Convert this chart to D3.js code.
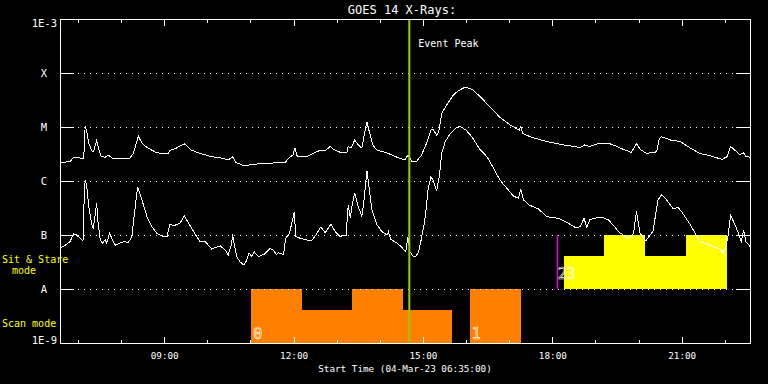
<!DOCTYPE html>
<html lang="en">
<head>
<meta charset="utf-8">
<title>GOES 14 X-Rays</title>
<script src="https://d3js.org/d3.v7.min.js"></script>
<style>
    body {
        margin: 0;
        padding: 0;
        background: #000;
        overflow: hidden;
    }
    text {
        font-family: "DejaVu Sans Mono", monospace;
        fill: #fff;
    }
</style>
</head>
<body>
<svg id="goes"></svg>
<script>
const day = "2023-03-04";
const startTime = "06:35";
const endTime = "22:35";
const eventPeak = "14:41";

const levelValues = [1e-9, 1e-8, 1e-7, 1e-6, 1e-5, 1e-4, 1e-3];
const levelLabels = ["1E-9", "A", "B", "C", "M", "X", "1E-3"];

// [time, log10 flux W/m^2]
const longChannel = [
    ["06:35", -5.66], ["06:49", -5.64], ["06:54", -5.56], ["07:06", -5.58], ["07:08", -5.58],
    ["07:10", -4.99], ["07:12", -5.07], ["07:15", -5.30], ["07:20", -5.46], ["07:22", -5.44],
    ["07:26", -5.25], ["07:28", -5.36], ["07:32", -5.54], ["07:38", -5.56], ["07:42", -5.52],
    ["07:49", -5.59], ["07:58", -5.59], ["08:12", -5.58], ["08:17", -5.49], ["08:24", -5.17],
    ["08:29", -5.30], ["08:36", -5.38], ["08:50", -5.48], ["09:06", -5.49], ["09:08", -5.43],
    ["09:17", -5.39], ["09:28", -5.31], ["09:38", -5.43], ["09:50", -5.49], ["10:06", -5.55],
    ["10:18", -5.57], ["10:29", -5.61], ["10:35", -5.55], ["10:40", -5.66], ["10:52", -5.72],
    ["11:04", -5.69], ["11:23", -5.67], ["11:48", -5.66], ["11:53", -5.58], ["11:59", -5.52],
    ["12:02", -5.39], ["12:05", -5.54], ["12:18", -5.55], ["12:27", -5.49], ["12:37", -5.43],
    ["12:44", -5.44], ["12:51", -5.36], ["12:55", -5.41], ["13:05", -5.47], ["13:14", -5.48],
    ["13:16", -5.36], ["13:20", -5.39], ["13:25", -5.24], ["13:30", -5.33], ["13:35", -5.39],
    ["13:39", -5.09], ["13:42", -4.91], ["13:46", -5.12], ["13:50", -5.33], ["13:56", -5.43],
    ["14:10", -5.48], ["14:24", -5.56], ["14:35", -5.61], ["14:39", -5.52], ["14:44", -5.63],
    ["14:51", -5.64], ["14:58", -5.52], ["15:06", -5.27], ["15:11", -5.06], ["15:14", -5.04],
    ["15:19", -5.15], ["15:22", -5.09], ["15:26", -4.75], ["15:33", -4.59], ["15:42", -4.41],
    ["15:49", -4.33], ["15:59", -4.26], ["16:08", -4.30], ["16:19", -4.43], ["16:24", -4.50],
    ["16:47", -4.82], ["17:01", -4.96], ["17:14", -5.06], ["17:16", -4.99], ["17:19", -5.12],
    ["17:29", -5.18], ["17:52", -5.27], ["18:15", -5.33], ["18:39", -5.38], ["18:45", -5.33],
    ["18:52", -5.36], ["19:06", -5.30], ["19:18", -5.30], ["19:30", -5.36], ["19:34", -5.39],
    ["19:50", -5.47], ["19:57", -5.31], ["20:02", -5.41], ["20:11", -5.49], ["20:25", -5.46],
    ["20:29", -5.21], ["20:32", -5.18], ["20:44", -5.24], ["20:58", -5.27], ["21:12", -5.39],
    ["21:25", -5.49], ["21:39", -5.53], ["21:56", -5.60], ["22:03", -5.55], ["22:08", -5.36],
    ["22:14", -5.43], ["22:21", -5.51], ["22:26", -5.48], ["22:29", -5.54], ["22:35", -5.56]
];

const shortChannel = [
    ["06:35", -7.25], ["06:42", -7.19], ["06:49", -7.12], ["06:54", -6.98], ["06:57", -6.99],
    ["07:03", -7.06], ["07:07", -7.11], ["07:08", -6.54], ["07:10", -5.98], ["07:12", -6.07],
    ["07:15", -6.48], ["07:19", -6.78], ["07:21", -6.88], ["07:23", -6.72], ["07:26", -6.41],
    ["07:28", -6.78], ["07:31", -7.09], ["07:34", -7.15], ["07:38", -7.09], ["07:40", -7.15],
    ["07:44", -6.97], ["07:47", -7.06], ["07:52", -7.19], ["07:58", -7.15], ["08:05", -7.12],
    ["08:10", -7.14], ["08:15", -7.03], ["08:18", -6.66], ["08:23", -6.11], ["08:29", -6.35],
    ["08:36", -6.66], ["08:43", -6.85], ["08:50", -6.97], ["08:59", -7.03], ["09:04", -7.02],
    ["09:08", -6.80], ["09:13", -6.83], ["09:22", -6.78], ["09:28", -6.65], ["09:34", -6.78],
    ["09:41", -6.94], ["09:50", -7.13], ["09:57", -7.12], ["10:06", -7.26], ["10:18", -7.20],
    ["10:25", -7.28], ["10:29", -7.37], ["10:34", -7.15], ["10:35", -6.98], ["10:37", -7.15],
    ["10:41", -7.40], ["10:45", -7.49], ["10:51", -7.56], ["10:55", -7.46], ["10:58", -7.33],
    ["11:02", -7.40], ["11:05", -7.31], ["11:11", -7.40], ["11:20", -7.35], ["11:27", -7.25],
    ["11:32", -7.28], ["11:36", -7.36], ["11:39", -7.33], ["11:46", -7.36], ["11:49", -7.06],
    ["11:54", -6.98], ["11:57", -6.81], ["12:01", -6.57], ["12:03", -7.03], ["12:09", -7.06],
    ["12:18", -7.09], ["12:25", -7.11], ["12:32", -6.98], ["12:38", -6.85], ["12:44", -6.96],
    ["12:52", -6.80], ["12:58", -6.94], ["13:05", -7.03], ["13:09", -7.00], ["13:13", -7.00],
    ["13:16", -6.44], ["13:19", -6.69], ["13:21", -6.48], ["13:25", -6.22], ["13:30", -6.48],
    ["13:35", -6.65], ["13:38", -6.35], ["13:42", -5.81], ["13:45", -6.11], ["13:49", -6.54],
    ["13:56", -6.81], ["14:03", -6.94], ["14:10", -7.00], ["14:12", -6.94], ["14:15", -7.08],
    ["14:24", -7.15], ["14:30", -7.22], ["14:36", -7.31], ["14:39", -7.03], ["14:42", -7.31],
    ["14:46", -7.39], ["14:50", -7.40], ["14:54", -7.31], ["14:57", -7.12], ["15:01", -6.85],
    ["15:04", -6.57], ["15:07", -6.17], ["15:11", -5.92], ["15:14", -5.98], ["15:19", -6.18],
    ["15:23", -5.89], ["15:26", -5.49], ["15:31", -5.27], ["15:38", -5.12], ["15:47", -5.01],
    ["15:52", -4.99], ["16:00", -5.06], ["16:08", -5.18], ["16:19", -5.41], ["16:29", -5.55],
    ["16:38", -5.76], ["16:47", -5.98], ["16:57", -6.14], ["17:06", -6.28], ["17:13", -6.32],
    ["17:16", -6.15], ["17:20", -6.35], ["17:27", -6.44], ["17:41", -6.52], ["17:52", -6.66],
    ["18:08", -6.69], ["18:22", -6.78], ["18:32", -6.86], ["18:39", -6.85], ["18:44", -6.69],
    ["18:48", -6.86], ["18:52", -6.72], ["18:59", -6.69], ["19:09", -6.67], ["19:18", -6.72],
    ["19:27", -6.85], ["19:32", -6.94], ["19:46", -7.07], ["19:53", -6.97], ["19:57", -6.56],
    ["20:02", -6.97], ["20:10", -7.11], ["20:20", -6.93], ["20:27", -6.35], ["20:32", -6.25],
    ["20:39", -6.35], ["20:48", -6.51], ["20:55", -6.49], ["21:00", -6.57], ["21:12", -6.81],
    ["21:21", -7.02], ["21:25", -7.12], ["21:39", -7.19], ["21:53", -7.26], ["21:58", -7.33],
    ["22:02", -7.19], ["22:05", -6.97], ["22:08", -6.63], ["22:14", -6.81], ["22:19", -6.97],
    ["22:23", -7.12], ["22:26", -6.91], ["22:28", -7.03], ["22:29", -7.12], ["22:35", -7.21]
];

// scan mode rasters (orange), height as fraction of the band
const scanStart = ["11:01", "12:12", "13:21", "14:32", "16:05"];
const scanEnd = ["12:12", "13:21", "14:32", "15:41", "17:16"];
const scanHeight = [1, 0.61, 1, 0.61, 1];
const scanLabels = [["11:01", "0"], ["16:05", "1"]];

// sit & stare rasters (yellow)
const stareStart = ["18:16", "19:12", "20:09", "21:06"];
const stareEnd = ["19:12", "20:09", "21:06", "22:03"];
const stareHeight = [0.62, 1, 0.62, 1];
const stareMarker = "18:06";
const stareLabel = "23";

const width = 768;
const height = 384;
const plotLeft = 60, plotRight = 750, plotTop = 19, plotBottom = 343;

const parse = d3.timeParse("%Y-%m-%d %H:%M");
const t = s => parse(day + " " + s);

const x = d3.scaleTime().domain([t(startTime), t(endTime)]).range([plotLeft, plotRight]);
const y = d3.scaleLog().domain([1e-9, 1e-3]).range([plotBottom, plotTop]);
const scanBand = d3.scaleLinear().domain([0, 1]).range([y(1e-9), y(1e-8)]);
const stareBand = d3.scaleLinear().domain([0, 1]).range([y(1e-8), y(1e-7)]);

const svg = d3.select("#goes")
    .attr("width", width)
    .attr("height", height)
    .style("background", "#000");

// bars
svg.append("g")
    .selectAll("rect")
    .data(scanStart)
    .join("rect")
    .attr("x", d => x(t(d)))
    .attr("width", (d, i) => x(t(scanEnd[i])) - x(t(d)))
    .attr("y", (d, i) => scanBand(scanHeight[i]))
    .attr("height", (d, i) => scanBand(0) - scanBand(scanHeight[i]))
    .attr("fill", "#ff8000")
    .attr("shape-rendering", "crispEdges");

svg.append("g")
    .selectAll("rect")
    .data(stareStart)
    .join("rect")
    .attr("x", d => x(t(d)))
    .attr("width", (d, i) => x(t(stareEnd[i])) - x(t(d)))
    .attr("y", (d, i) => stareBand(stareHeight[i]))
    .attr("height", (d, i) => stareBand(0) - stareBand(stareHeight[i]))
    .attr("fill", "#ffff00")
    .attr("shape-rendering", "crispEdges");

// dotted level lines
svg.append("g")
    .selectAll("line")
    .data(levelValues.slice(1, -1))
    .join("line")
    .attr("x1", plotLeft + 18)
    .attr("x2", plotRight - 14)
    .attr("y1", d => Math.round(y(d)) + 0.5)
    .attr("y2", d => Math.round(y(d)) + 0.5)
    .attr("stroke", "#fff")
    .attr("stroke-dasharray", "1,5")
    .attr("shape-rendering", "crispEdges");

// flux curves
const line = d3.line()
    .x(d => x(t(d[0])))
    .y(d => y(Math.pow(10, d[1])));

[longChannel, shortChannel].forEach(series => {
    svg.append("path")
        .datum(series)
        .attr("d", line)
        .attr("fill", "none")
        .attr("stroke", "#fff")
        .attr("stroke-width", 1)
        .attr("shape-rendering", "crispEdges");
});

// event peak
svg.append("line")
    .attr("x1", x(t(eventPeak)))
    .attr("x2", x(t(eventPeak)))
    .attr("y1", plotTop)
    .attr("y2", plotBottom)
    .attr("stroke", "#99cc00")
    .attr("stroke-width", 2);

svg.append("text")
    .attr("x", x(t(eventPeak)) + 9)
    .attr("y", 47)
    .attr("font-size", 10)
    .text("Event Peak");

// sit & stare marker
svg.append("line")
    .attr("x1", Math.round(x(t(stareMarker))) + 0.5)
    .attr("x2", Math.round(x(t(stareMarker))) + 0.5)
    .attr("y1", stareBand(1))
    .attr("y2", stareBand(0))
    .attr("stroke", "#e000e0")
    .attr("stroke-width", 1.5);

// raster group labels (outlined)
const outlined = sel => sel
    .attr("font-size", 15)
    .style("fill", "none")
    .attr("stroke", "#fff")
    .attr("stroke-width", 0.6);

svg.append("g")
    .selectAll("text")
    .data(scanLabels)
    .join("text")
    .attr("x", d => x(t(d[0])) + 2)
    .attr("y", scanBand(0) - 4.5)
    .text(d => d[1])
    .call(outlined);

svg.append("text")
    .attr("x", x(t(stareMarker)) + 1)
    .attr("y", stareBand(0) - 10.5)
    .text(stareLabel)
    .call(outlined);

// frame
svg.append("rect")
    .attr("x", plotLeft + 0.5)
    .attr("y", plotTop + 0.5)
    .attr("width", plotRight - plotLeft)
    .attr("height", plotBottom - plotTop)
    .attr("fill", "none")
    .attr("stroke", "#fff")
    .attr("shape-rendering", "crispEdges");

// time axes
const isMajor = d => d.getHours() % 3 === 0;

const xBottom = svg.append("g")
    .attr("transform", `translate(0,${plotBottom})`)
    .call(d3.axisBottom(x)
        .ticks(d3.timeHour.every(1))
        .tickSize(-3)
        .tickPadding(9)
        .tickFormat(d => isMajor(d) ? d3.timeFormat("%H:%M")(d) : ""));
xBottom.select(".domain").remove();
xBottom.selectAll(".tick line")
    .attr("y2", d => isMajor(d) ? -6 : -3)
    .attr("stroke", "#fff")
    .attr("shape-rendering", "crispEdges");
xBottom.selectAll(".tick text")
    .attr("font-family", "DejaVu Sans Mono")
    .attr("font-size", 9.3)
    .style("fill", "#fff");

const xTop = svg.append("g")
    .attr("transform", `translate(0,${plotTop + 1})`)
    .call(d3.axisTop(x)
        .ticks(d3.timeHour.every(1))
        .tickSize(-3)
        .tickFormat(""));
xTop.select(".domain").remove();
xTop.selectAll(".tick line")
    .attr("y2", d => isMajor(d) ? 6 : 3)
    .attr("stroke", "#fff")
    .attr("shape-rendering", "crispEdges");

// flux axes
const yLeft = svg.append("g")
    .attr("transform", `translate(${plotLeft},0)`)
    .call(d3.axisLeft(y)
        .tickValues(levelValues)
        .tickSize(-14)
        .tickFormat((d, i) => levelLabels[i]));
yLeft.select(".domain").remove();
yLeft.selectAll(".tick line")
    .attr("stroke", "#fff")
    .attr("shape-rendering", "crispEdges");
yLeft.selectAll(".tick text")
    .attr("font-family", "DejaVu Sans Mono")
    .attr("font-size", 10.5)
    .style("fill", "#fff")
    .attr("text-anchor", (d, i) => levelLabels[i].startsWith("1E") ? "end" : "middle")
    .attr("x", (d, i) => levelLabels[i].startsWith("1E") ? -3 : -16)
    .attr("dy", d => d === 1e-3 ? "0.75em" : d === 1e-9 ? "0" : "0.35em");

const yRight = svg.append("g")
    .attr("transform", `translate(${plotRight},0)`)
    .call(d3.axisRight(y)
        .tickValues(levelValues)
        .tickSize(-14)
        .tickFormat(""));
yRight.select(".domain").remove();
yRight.selectAll(".tick line")
    .attr("stroke", "#fff")
    .attr("shape-rendering", "crispEdges");

// titles and mode labels
svg.append("text")
    .attr("x", 402)
    .attr("y", 14)
    .attr("text-anchor", "middle")
    .attr("font-size", 12)
    .text("GOES 14 X-Rays:");

svg.append("text")
    .attr("x", (plotLeft + plotRight) / 2)
    .attr("y", 372)
    .attr("text-anchor", "middle")
    .attr("font-size", 9.3)
    .text(`Start Time (${d3.timeFormat("%d-%b-%y %H:%M:%S")(t(startTime))})`);

const modeLabels = svg.append("g")
    .attr("font-size", 10);
modeLabels.append("text").attr("x", 2).attr("y", 262.5).style("fill", "#ffff00").text("Sit & Stare");
modeLabels.append("text").attr("x", 24).attr("y", 274).attr("text-anchor", "middle").style("fill", "#ffff00").text("mode");
modeLabels.append("text").attr("x", 2).attr("y", 327).style("fill", "#ffff00").text("Scan mode");
</script>
</body>
</html>
